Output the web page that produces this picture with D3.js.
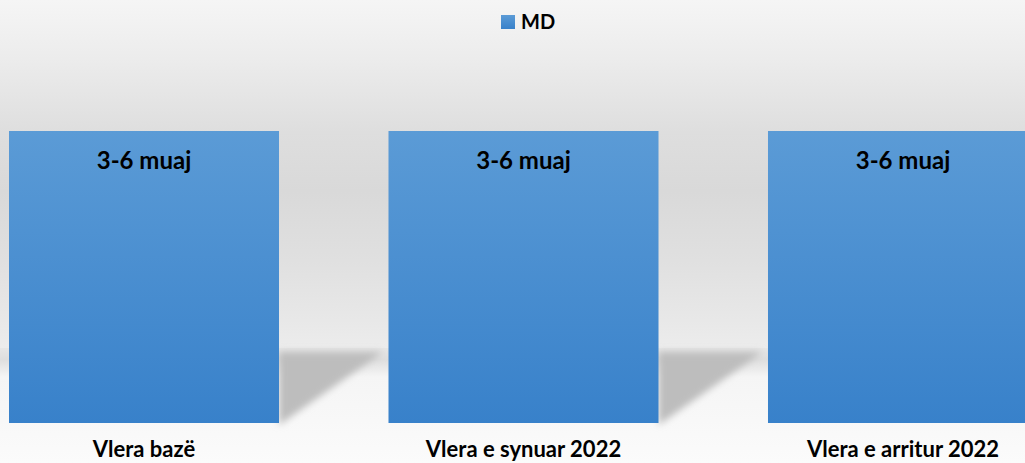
<!DOCTYPE html>
<html>
<head>
<meta charset="utf-8">
<script src="https://cdn.jsdelivr.net/npm/d3@7/dist/d3.min.js"></script>
<style>
  html, body { margin: 0; padding: 0; background: #ffffff; }
  svg { display: block; }
  text { font-family: Lato, "Open Sans", "Liberation Sans", sans-serif; font-weight: bold; fill: #000; }
</style>
</head>
<body>
<svg id="chart" width="1025" height="463"></svg>
<script>
// Chart data
const categories = ["Vlera bazë", "Vlera e synuar 2022", "Vlera e arritur 2022"];
const seriesName = "MD";
const values = [6, 6, 6];              // months (upper bound of the range)
const valueLabels = ["3-6 muaj", "3-6 muaj", "3-6 muaj"];

const W = 1025, H = 463;
const svg = d3.select("#chart");
const defs = svg.append("defs");

// Back wall gradient
const wall = defs.append("linearGradient").attr("id", "wallGrad")
  .attr("x1", 0).attr("y1", 0).attr("x2", 0).attr("y2", 1);
[[0, "#f5f5f5"], [0.17, "#ececec"], [0.38, "#dedede"], [0.55, "#d9d9d9"],
 [0.75, "#e0e0e0"], [0.92, "#e8e8e8"], [1, "#ececec"]]
  .forEach(([o, c]) => wall.append("stop").attr("offset", o).attr("stop-color", c));

// Floor gradient
const floor = defs.append("linearGradient").attr("id", "floorGrad")
  .attr("x1", 0).attr("y1", 0).attr("x2", 0).attr("y2", 1);
[[0, "#e6e6e6"], [0.1, "#dedede"], [0.25, "#f5f5f5"], [1, "#fbfbfb"]]
  .forEach(([o, c]) => floor.append("stop").attr("offset", o).attr("stop-color", c));

// Bar gradient
const barGrad = defs.append("linearGradient").attr("id", "barGrad")
  .attr("x1", 0).attr("y1", 0).attr("x2", 0).attr("y2", 1);
barGrad.append("stop").attr("offset", 0).attr("stop-color", "#5b9bd6");
barGrad.append("stop").attr("offset", 1).attr("stop-color", "#3881ca");

// Soft shadow blur
defs.append("filter").attr("id", "blur")
  .attr("x", "-20%").attr("y", "-20%").attr("width", "140%").attr("height", "140%")
  .append("feGaussianBlur").attr("stdDeviation", 3.5);

const wallBottom = 348;
svg.append("rect").attr("x", 0).attr("y", 0).attr("width", W).attr("height", wallBottom)
  .attr("fill", "url(#wallGrad)");
svg.append("rect").attr("x", 0).attr("y", wallBottom).attr("width", W).attr("height", H - wallBottom)
  .attr("fill", "url(#floorGrad)");

// Scales
const x = d3.scaleBand().domain(categories).range([9, 1038]).paddingInner(0.2885).paddingOuter(0);
const y = d3.scaleLinear().domain([0, d3.max(values)]).range([423, 131]);

const data = categories.map((c, i) => ({ cat: c, value: values[i], label: valueLabels[i] }));

// Floor shadows cast to the right of each bar
svg.append("g").selectAll("path").data(data).join("path")
  .attr("d", d => {
    const x0 = x(d.cat) + x.bandwidth();
    const yb = y(0);
    return `M${x0},${wallBottom + 4} L${x0 + 104},${wallBottom + 4} L${x0},${yb + 2} Z`;
  })
  .attr("fill", "#bdbdbd")
  .attr("filter", "url(#blur)");

// Bars
svg.append("g").selectAll("rect").data(data).join("rect")
  .attr("x", d => x(d.cat))
  .attr("y", d => y(d.value))
  .attr("width", x.bandwidth())
  .attr("height", d => y(0) - y(d.value))
  .attr("fill", "url(#barGrad)");

// Value labels inside bars
svg.append("g").selectAll("text").data(data).join("text")
  .attr("x", d => x(d.cat) + x.bandwidth() / 2)
  .attr("y", d => y(d.value) + 38)
  .attr("text-anchor", "middle")
  .attr("font-size", 24)
  .text(d => d.label);

// Category axis labels
const xAxis = d3.axisBottom(x).tickSize(0).tickPadding(0);
const gx = svg.append("g").attr("transform", `translate(0,${y(0)})`).call(xAxis);
gx.select(".domain").remove();
gx.selectAll("text")
  .attr("y", 34).attr("dy", 0)
  .attr("font-size", 22)
  .style("font-family", "Lato, 'Open Sans', sans-serif")
  .style("font-weight", "bold")
  .attr("fill", "#000");

// Legend
const legend = svg.append("g").attr("transform", "translate(501,15)");
legend.append("rect").attr("width", 14).attr("height", 14).attr("fill", "url(#barGrad)");
legend.append("text").attr("x", 20).attr("y", 14).attr("font-size", 20).text(seriesName);
</script>
</body>
</html>
